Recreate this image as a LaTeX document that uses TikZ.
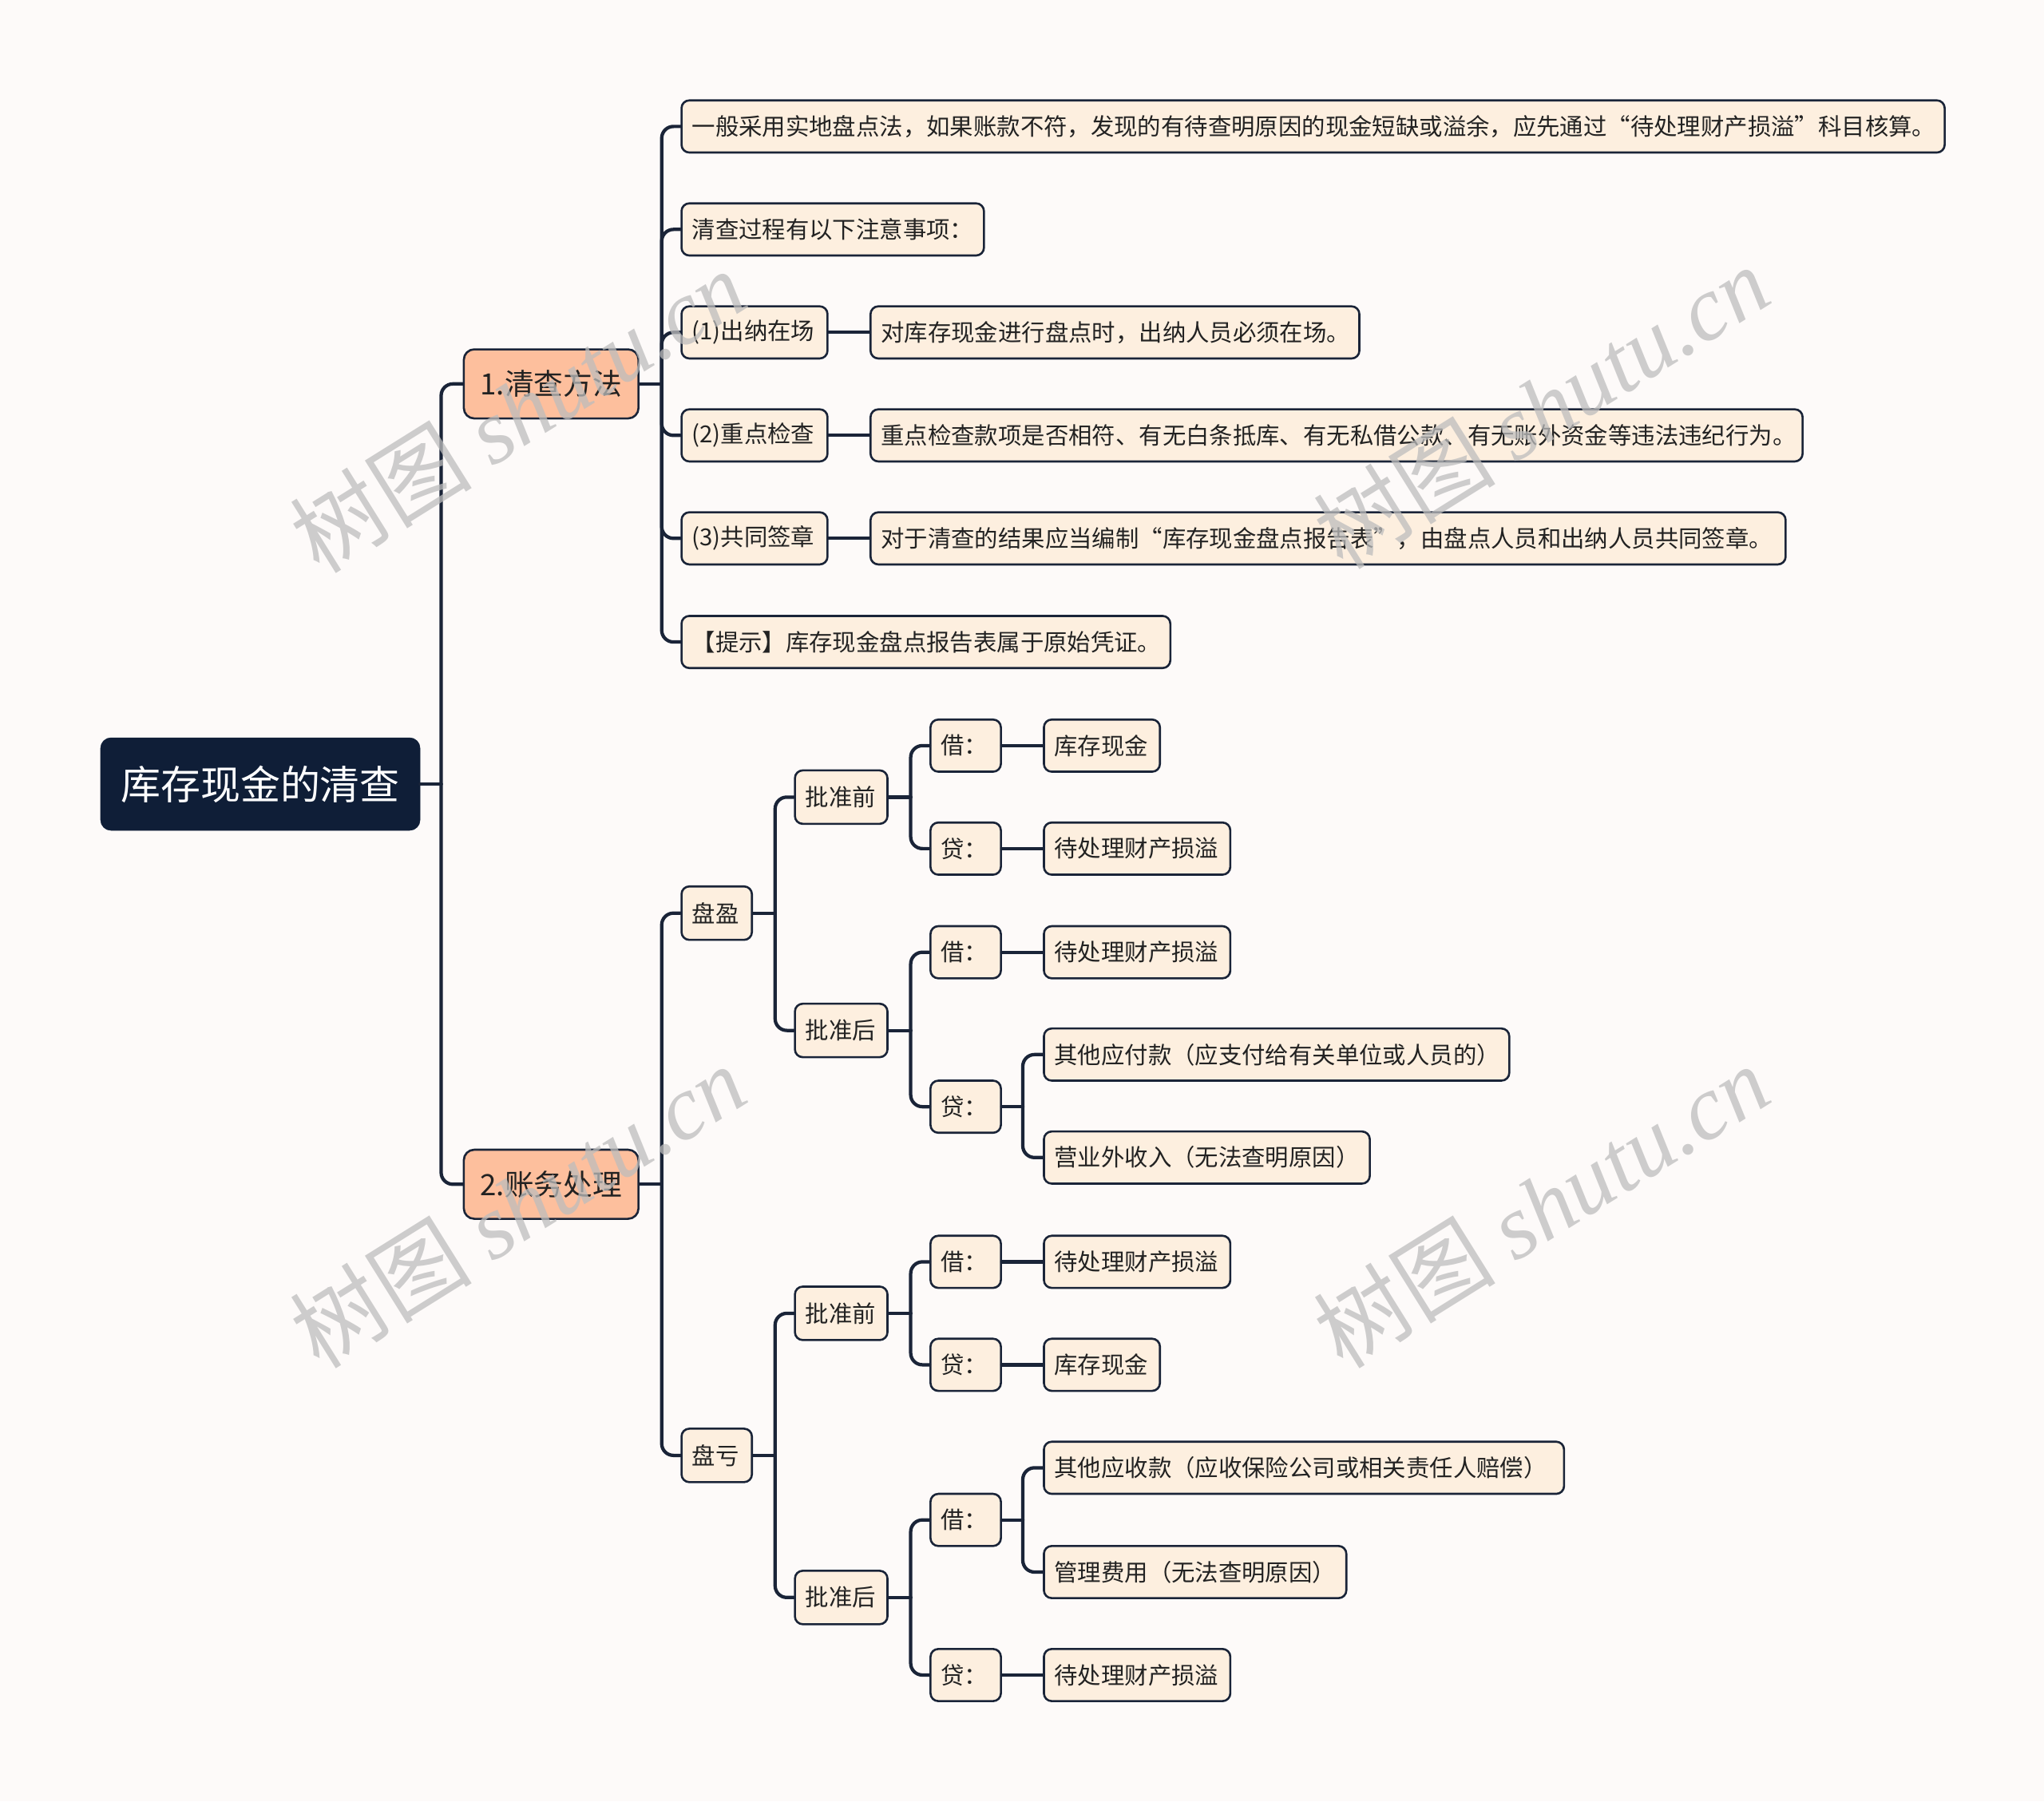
\documentclass[tikz,border=0pt]{standalone}
\usepackage{fontspec}
\newfontfamily\cjk{Noto Sans CJK SC}
\newfontfamily\wmserif{Liberation Serif}
\usetikzlibrary{calc}
\definecolor{bgcol}{HTML}{FDFAF9}
\definecolor{creamcol}{HTML}{FDEFDF}
\definecolor{salmoncol}{HTML}{FDBF9D}
\definecolor{navycol}{HTML}{0F1E37}
\definecolor{linecol}{HTML}{1A2438}
\definecolor{txtcol}{HTML}{222222}
\definecolor{wmcol}{HTML}{BDBDBD}
\tikzset{
  leaf/.style={draw=linecol, line width=1.6pt, fill=creamcol, rounded corners=6pt,
    minimum height=40pt, inner xsep=8pt, inner ysep=0pt, anchor=west, text=txtcol,
    align=left, font=\cjk\fontsize{18}{21}\selectfont},
  tw/.style={text width=#1},
  sect/.style={leaf, fill=salmoncol, minimum height=53pt, rounded corners=8pt,
    align=center, font=\cjk\fontsize{22.5}{26}\selectfont},
  rootbox/.style={fill=navycol, draw=navycol, rounded corners=8pt, minimum height=71pt,
    inner xsep=10pt, anchor=west, text=white, font=\cjk\fontsize{30.6}{34}\selectfont},
  conn/.style={draw=linecol, line width=2.6pt, line cap=round},
  wm/.style={text=wmcol, opacity=0.75, rotate=32, font=\fontsize{70}{76}\selectfont}
}
\newcommand{\fork}[2]{\draw[conn, rounded corners=9pt] (#1) |- (#2.west);}
\begin{document}
\begin{tikzpicture}[x=1pt,y=-1pt]
\fill[bgcol] (0,0) rectangle (1568,1382);
\useasboundingbox (0,0) rectangle (1568,1382);

% root and sections
\node[rootbox, minimum width=245pt] (root) at (77,601.5) {库存现金的清查};
\node[sect, tw=118pt] (s1) at (355,294.5) {1.清查方法};
\node[sect, tw=118pt] (s2) at (355,908.5) {2.账务处理};

% section 1 children
\node[leaf, tw=953pt] (a1) at (522,97) {一般采用实地盘点法，如果账款不符，发现的有待查明原因的现金短缺或溢余，应先通过“待处理财产损溢”科目核算。};
\node[leaf, tw=216pt] (a2) at (522,176) {清查过程有以下注意事项：};
\node[leaf, tw=96pt] (a3) at (522,255) {(1)出纳在场};
\node[leaf, tw=359pt] (a3c) at (667,255) {对库存现金进行盘点时，出纳人员必须在场。};
\node[leaf, tw=96pt] (a4) at (522,334) {(2)重点检查};
\node[leaf, tw=699pt] (a4c) at (667,334) {重点检查款项是否相符、有无白条抵库、有无私借公款、有无账外资金等违法违纪行为。};
\node[leaf, tw=96pt] (a5) at (522,413) {(3)共同签章};
\node[leaf, tw=686pt] (a5c) at (667,413) {对于清查的结果应当编制“库存现金盘点报告表”，由盘点人员和出纳人员共同签章。};
\node[leaf, tw=359pt] (a6) at (522,492.5) {【提示】库存现金盘点报告表属于原始凭证。};

% section 2
\node[leaf, tw=38pt, minimum height=41pt] (py) at (522,700.5) {盘盈};
\node[leaf, tw=38pt, minimum height=41pt] (pk) at (522,1116.5) {盘亏};

\node[leaf, tw=55pt, minimum height=41pt] (py1) at (609,611.5) {批准前};
\node[leaf, tw=55pt, minimum height=41pt] (py2) at (609,790.5) {批准后};
\node[leaf, tw=38pt] (py1a) at (713,572) {借：};
\node[leaf, tw=73pt] (py1ac) at (800,572) {库存现金};
\node[leaf, tw=38pt] (py1b) at (713,651) {贷：};
\node[leaf, tw=127pt] (py1bc) at (800,651) {待处理财产损溢};
\node[leaf, tw=38pt] (py2a) at (713,730.5) {借：};
\node[leaf, tw=127pt] (py2ac) at (800,730.5) {待处理财产损溢};
\node[leaf, tw=38pt] (py2b) at (713,849) {贷：};
\node[leaf, tw=341pt] (py2b1) at (800,809) {其他应付款（应支付给有关单位或人员的）};
\node[leaf, tw=234pt] (py2b2) at (800,888) {营业外收入（无法查明原因）};

\node[leaf, tw=55pt, minimum height=41pt] (pk1) at (609,1007.5) {批准前};
\node[leaf, tw=55pt, minimum height=41pt] (pk2) at (609,1225.5) {批准后};
\node[leaf, tw=38pt] (pk1a) at (713,968) {借：};
\node[leaf, tw=127pt] (pk1ac) at (800,968) {待处理财产损溢};
\node[leaf, tw=38pt] (pk1b) at (713,1047) {贷：};
\node[leaf, tw=73pt] (pk1bc) at (800,1047) {库存现金};
\node[leaf, tw=38pt] (pk2a) at (713,1166) {借：};
\node[leaf, tw=383pt] (pk2a1) at (800,1126) {其他应收款（应收保险公司或相关责任人赔偿）};
\node[leaf, tw=216pt] (pk2a2) at (800,1206) {管理费用（无法查明原因）};
\node[leaf, tw=38pt] (pk2b) at (713,1285) {贷：};
\node[leaf, tw=127pt] (pk2bc) at (800,1285) {待处理财产损溢};

% junction coordinates
\coordinate (jr) at ($(root.east)+(16,0)$);
\coordinate (js1) at ($(s1.east)+(17,0)$);
\coordinate (js2) at ($(s2.east)+(17,0)$);
\coordinate (jpy) at ($(py.east)+(17,0)$);
\coordinate (jpk) at ($(pk.east)+(17,0)$);
\coordinate (jpy1) at ($(py1.east)+(17,0)$);
\coordinate (jpy2) at ($(py2.east)+(17,0)$);
\coordinate (jpk1) at ($(pk1.east)+(17,0)$);
\coordinate (jpk2) at ($(pk2.east)+(17,0)$);
\coordinate (jpy2b) at ($(py2b.east)+(16,0)$);
\coordinate (jpk2a) at ($(pk2a.east)+(16,0)$);

% root
\draw[conn] (root.east) -- (jr);
\fork{jr}{s1}
\fork{jr}{s2}
% section 1
\draw[conn] (s1.east) -- (js1);
\fork{js1}{a1}
\fork{js1}{a2}
\fork{js1}{a3}
\fork{js1}{a4}
\fork{js1}{a5}
\fork{js1}{a6}
\draw[conn] (a3.east) -- (a3c.west);
\draw[conn] (a4.east) -- (a4c.west);
\draw[conn] (a5.east) -- (a5c.west);
% section 2
\draw[conn] (s2.east) -- (js2);
\fork{js2}{py}
\fork{js2}{pk}
\draw[conn] (py.east) -- (jpy);
\fork{jpy}{py1}
\fork{jpy}{py2}
\draw[conn] (py1.east) -- (jpy1);
\fork{jpy1}{py1a}
\fork{jpy1}{py1b}
\draw[conn] (py1a.east) -- (py1ac.west);
\draw[conn] (py1b.east) -- (py1bc.west);
\draw[conn] (py2.east) -- (jpy2);
\fork{jpy2}{py2a}
\fork{jpy2}{py2b}
\draw[conn] (py2a.east) -- (py2ac.west);
\draw[conn] (py2b.east) -- (jpy2b);
\fork{jpy2b}{py2b1}
\fork{jpy2b}{py2b2}
\draw[conn] (pk.east) -- (jpk);
\fork{jpk}{pk1}
\fork{jpk}{pk2}
\draw[conn] (pk1.east) -- (jpk1);
\fork{jpk1}{pk1a}
\fork{jpk1}{pk1b}
\draw[conn] (pk1a.east) -- (pk1ac.west);
\draw[conn] (pk1b.east) -- (pk1bc.west);
\draw[conn] (pk2.east) -- (jpk2);
\fork{jpk2}{pk2a}
\fork{jpk2}{pk2b}
\draw[conn] (pk2a.east) -- (jpk2a);
\fork{jpk2a}{pk2a1}
\fork{jpk2a}{pk2a2}
\draw[conn] (pk2b.east) -- (pk2bc.west);

% watermarks
\node[wm] (w1) at (397,315) {\cjk 树图\ \wmserif\itshape shutu.cn};
\node[wm] (w2) at (1182,312) {\cjk 树图\ \wmserif\itshape shutu.cn};
\node[wm] (w3) at (397,925) {\cjk 树图\ \wmserif\itshape shutu.cn};
\node[wm] (w4) at (1182,925) {\cjk 树图\ \wmserif\itshape shutu.cn};
\end{tikzpicture}
\end{document}
